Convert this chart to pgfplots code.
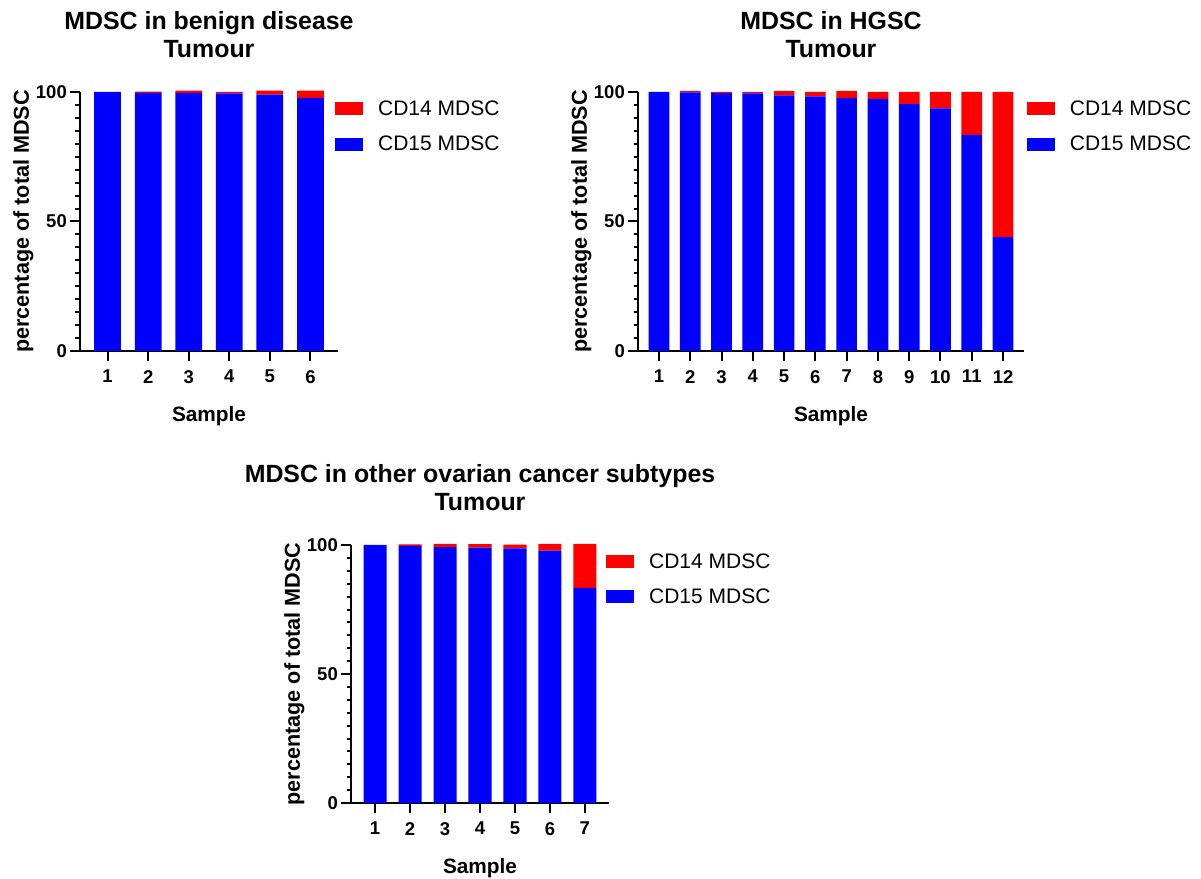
\documentclass[border=0pt]{standalone}
\usepackage{pgfplots}
\pgfplotsset{compat=1.18}
\usepackage{fontspec}
\setmainfont{Liberation Sans}
\definecolor{myred}{RGB}{255,0,0}
\definecolor{myblue}{RGB}{0,0,255}
\pgfplotsset{
  prism/.style={
    scale only axis,
    anchor=south west,
    ybar stacked,
    bar width=0.66,
    clip=false,
    axis x line*=bottom,
    axis y line*=left,
    axis line style={line width=2pt},
    every major tick/.append style={line width=2pt, black},
    every minor tick/.append style={line width=2pt, black},
    xtick style={line width=2pt, black},
    ytick style={line width=2pt, black},
    major tick length=10pt,
    minor tick length=4.5pt,
    tick align=outside,
    ymin=0, ymax=100,
    ytick={0,50,100},
    minor y tick num=9,
    /pgf/number format/assume math mode=true,
    ticklabel style={font=\bfseries\fontsize{18.5}{21}\selectfont},
    yticklabel style={inner sep=0pt, anchor=east, xshift=-3pt},
    xticklabel style={inner sep=0pt, anchor=north, yshift=-9pt},
    title style={font=\bfseries\fontsize{24.9}{28}\selectfont, align=center, at={(axis description cs:0.5,1)}, anchor=south, inner sep=0pt, yshift=28pt},
    xlabel={Sample},
    xlabel style={font=\bfseries\fontsize{20.8}{24}\selectfont, at={(axis description cs:0.5,0)}, anchor=base, inner sep=0pt, yshift=-70.5pt},
    ylabel={percentage of total MDSC},
    ylabel style={font=\bfseries\fontsize{21.6}{24}\selectfont, rotate=0, anchor=north, inner sep=0pt},
    legend style={draw=none, fill=none, anchor=west, inner sep=0pt,
      font=\fontsize{21}{24}\selectfont, row sep=19pt,
      nodes={inner sep=0pt},
      /tikz/every odd column/.style={column sep=15pt}},
    legend cell align=left,
    reverse legend,
    legend image code/.code={\path[##1,draw=none] (0pt,-6.5pt) rectangle (28pt,6.5pt);},
  }
}
\begin{document}
\begin{tikzpicture}
\path[use as bounding box] (0pt,0pt) rectangle (1201pt,878pt);
% Panel 1
\begin{axis}[prism, at={(80pt,527pt)}, width=258pt, height=259pt,
  xmin=0.32, xmax=6.68, xtick={1,...,6},
  title={MDSC in benign disease\\Tumour},
  ylabel style={at={(axis description cs:-0.2597,0.5)}},
  legend style={at={(axis description cs:0.988,0.867)}}]
\addplot[fill=myblue, draw=none] coordinates {(1,100) (2,99.7) (3,99.7) (4,99.5) (5,99.0) (6,97.7)};
\addplot[fill=myred, draw=none] coordinates {(1,0) (2,0.4) (3,0.8) (4,0.5) (5,1.5) (6,2.8)};
\legend{CD15 MDSC, CD14 MDSC}
\end{axis}
% Panel 2
\begin{axis}[prism, at={(638pt,527pt)}, width=386pt, height=259pt,
  xmin=0.33, xmax=12.67, xtick={1,...,12},
  title={MDSC in HGSC\\Tumour},
  ylabel style={at={(axis description cs:-0.1736,0.5)}},
  legend style={at={(axis description cs:1.007,0.867)}}]
\addplot[fill=myblue, draw=none] coordinates {(1,100) (2,99.9) (3,99.6) (4,99.5) (5,98.7) (6,98.3) (7,97.7) (8,97.3) (9,95.3) (10,93.7) (11,83.4) (12,44)};
\addplot[fill=myred, draw=none] coordinates {(1,0) (2,0.5) (3,0.4) (4,0.5) (5,1.7) (6,1.7) (7,2.7) (8,2.7) (9,4.7) (10,6.3) (11,16.6) (12,56)};
\legend{CD15 MDSC, CD14 MDSC}
\end{axis}
% Panel 3
\begin{axis}[prism, at={(351pt,75pt)}, width=258pt, height=258pt,
  xmin=0.31, xmax=7.69, xtick={1,...,7},
  title={MDSC in other ovarian cancer subtypes\\Tumour},
  ylabel style={at={(axis description cs:-0.2597,0.5)}},
  legend style={at={(axis description cs:0.988,0.867)}}]
\addplot[fill=myblue, draw=none] coordinates {(1,100) (2,99.7) (3,99.2) (4,99.0) (5,98.7) (6,97.8) (7,83.4)};
\addplot[fill=myred, draw=none] coordinates {(1,0) (2,0.5) (3,1.2) (4,1.3) (5,1.4) (6,2.6) (7,17)};
\legend{CD15 MDSC, CD14 MDSC}
\end{axis}
\end{tikzpicture}
\end{document}
